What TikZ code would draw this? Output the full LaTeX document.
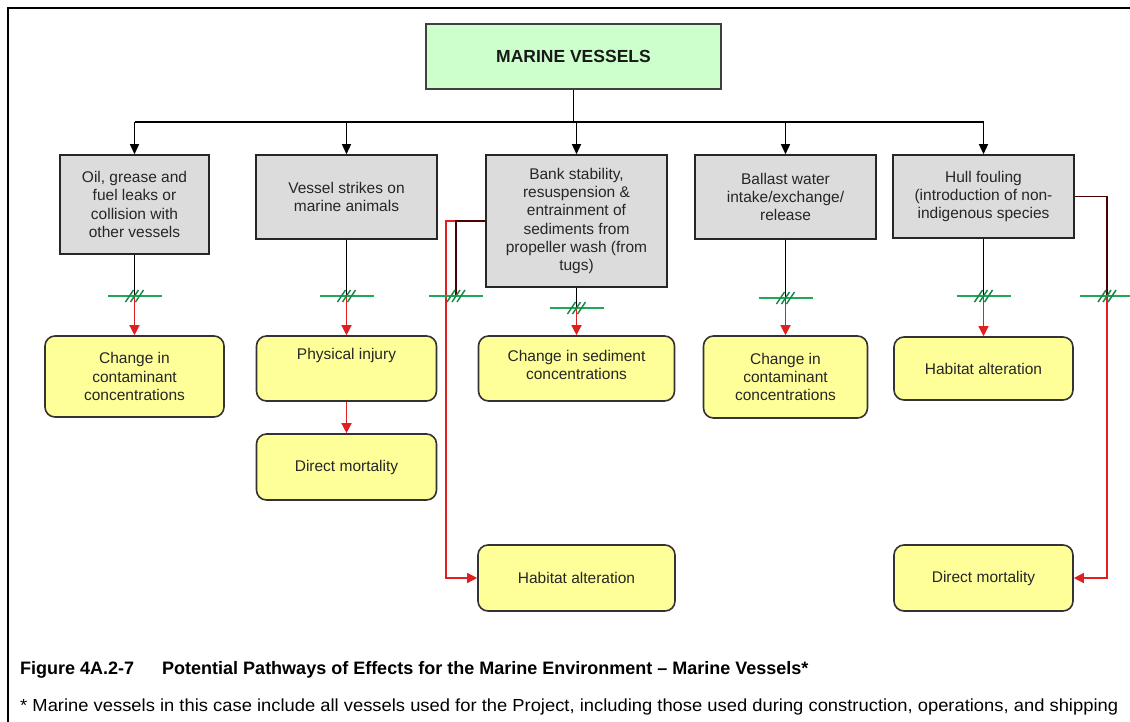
\documentclass[tikz,border=0pt]{standalone}
\usepackage{fontspec}
\setmainfont{Liberation Sans}
\usetikzlibrary{arrows.meta,calc}
\definecolor{grayfill}{HTML}{DCDCDC}
\definecolor{yfill}{HTML}{FFFF99}
\definecolor{gfill}{HTML}{CCFFCC}
\definecolor{redln}{HTML}{E02020}
\definecolor{grnln}{HTML}{1FA85A}
\begin{document}
\begin{tikzpicture}[x=1pt,y=-1pt,
  graybox/.style={draw=black!85,line width=1.6pt,fill=grayfill,inner sep=0pt,
    font=\fontsize{15.5}{18.3}\selectfont,align=center,text=black!85},
  ybox/.style={draw=black!80,line width=1.6pt,fill=yfill,rounded corners=10pt,inner sep=0pt,
    font=\fontsize{15.5}{18.3}\selectfont,align=center,text=black!85},
  txt/.style={font=\fontsize{15.5}{18.3}\selectfont,align=center,text=black!85,inner sep=0pt},
  topbox/.style={draw=black!75,line width=1.6pt,fill=gfill,inner sep=0pt,
    font=\bfseries\fontsize{17.5}{20}\selectfont,text=black!90},
  blk/.style={draw=black,line width=1.3pt},
  blkarr/.style={blk,-{Triangle[length=10pt,width=9pt]}},
  redln/.style={draw=redln,line width=1.3pt},
  redarr/.style={redln,-{Triangle[length=10pt,width=10pt]}},
  brkline/.style={draw=grnln,line width=1.4pt},
  brkslash/.style={draw=grnln!80!black,line width=1.5pt},
  brkmark/.pic={
    \draw[brkline] (-27,0) -- (27,0);
    \foreach \d in {-5,0,5} \draw[brkslash] (\d-4,6) -- (\d+4,-6);
  }
]
\useasboundingbox (0,0) rectangle (1130,721);
\fill[white] (0,0) rectangle (1130,721);
% frame
\draw[line width=2pt] (8,725) -- (8,8) -- (1135,8);

% top box
\node[topbox,minimum width=295pt,minimum height=65pt] (mv) at (573.5,56.5) {MARINE VESSELS};

% gray boxes
\node[graybox,minimum width=149pt,minimum height=99pt] (g1) at (134.5,204.5)
  {Oil, grease and\\fuel leaks or\\collision with\\other vessels};
\node[graybox,minimum width=181pt,minimum height=84pt] (g2) at (346.5,197)
  {Vessel strikes on\\marine animals};
\node[graybox,minimum width=181pt,minimum height=132pt] (g3) at (576.5,221)
  {Bank stability,\\resuspension \&\\entrainment of\\sediments from\\propeller wash (from\\tugs)};
\node[graybox,minimum width=181pt,minimum height=84pt] (g4) at (785.5,197)
  {Ballast water\\intake/exchange/\\release};
\node[graybox,minimum width=181pt,minimum height=83pt] (g5) at (983.5,196.5)
  {Hull fouling\\(introduction of non-\\indigenous species};

% bus
\coordinate (bus) at (573.5,122);
\coordinate (b1) at (134.5,122);
\coordinate (b5) at (983.5,122);
\draw[blk] (mv.south) -- (bus);
\draw[blk] (b1) -- (b5);
\foreach \g in {g1,g2,g3,g4,g5} \draw[blkarr] (\g.north |- bus) -- (\g.north);

% yellow boxes
\node[ybox,minimum width=179pt,minimum height=81pt] (y1) at (134.5,376.5)
  {Change in\\contaminant\\concentrations};
\node[ybox,minimum width=180pt,minimum height=65pt] (y2) at (346.5,368.5) {};
\node[txt] (y2t) at (346.5,355) {Physical injury};
\node[ybox,minimum width=180pt,minimum height=66pt] (y3) at (346.5,467) {Direct mortality};
\node[ybox,minimum width=196pt,minimum height=65pt] (y4) at (576.5,368.5) {};
\node[txt] (y4t) at (576.5,365) {Change in sediment\\concentrations};
\node[ybox,minimum width=164pt,minimum height=82pt] (y5) at (785.5,377)
  {Change in\\contaminant\\concentrations};
\node[ybox,minimum width=179pt,minimum height=63pt] (y6) at (983.5,368.5) {Habitat alteration};
\node[ybox,minimum width=197pt,minimum height=66pt] (y7) at (576.5,578) {Habitat alteration};
\node[ybox,minimum width=179pt,minimum height=66pt] (y8) at (983.5,578) {Direct mortality};

% break points
\coordinate (m1) at (134.5,296);
\coordinate (m2) at (346.5,296);
\coordinate (m3) at (576.5,308);
\coordinate (m4) at (785.5,298);
\coordinate (m5) at (983.5,296);
\coordinate (m6) at (456,296);
\coordinate (m7) at (1107,296);
\coordinate (r3) at (446,221);

% vertical connectors
\foreach \g/\m/\y in {g1/m1/y1,g2/m2/y2,g3/m3/y4,g4/m4/y5,g5/m5/y6}{
  \draw[blk] (\g.south) -- (\m);
  \draw[redarr] (\m) -- (\y.north);
}
\draw[redarr] (y2.south) -- (y3.north);

% side connectors from bank stability
\draw[redarr] (g3.west) -- (r3) |- (y7.west);
\draw[blk,draw=black!70!red] (g3.west) -- (m6 |- g3.west) -- (m6);

% side connector from hull fouling
\draw[blk,draw=black!70!red] (g5.east) -- (m7 |- g5.east) -- (m7);
\draw[redarr] (m7) |- (y8.east);

% break markers
\foreach \m in {m1,m2,m3,m4,m5,m6,m7} \pic at (\m) {brkmark};

% caption
\node[anchor=base west,inner sep=0pt,font=\bfseries\fontsize{18}{20}\selectfont] (cap) at (20,674)
  {Figure 4A.2-7\hspace{28pt}Potential Pathways of Effects for the Marine Environment – Marine Vessels*};
\node[anchor=base west,inner sep=0pt,font=\fontsize{17.5}{19}\selectfont,xscale=1.05] (note) at (20,711)
  {* Marine vessels in this case include all vessels used for the Project, including those used during construction, operations, and shipping};
\end{tikzpicture}
\end{document}
